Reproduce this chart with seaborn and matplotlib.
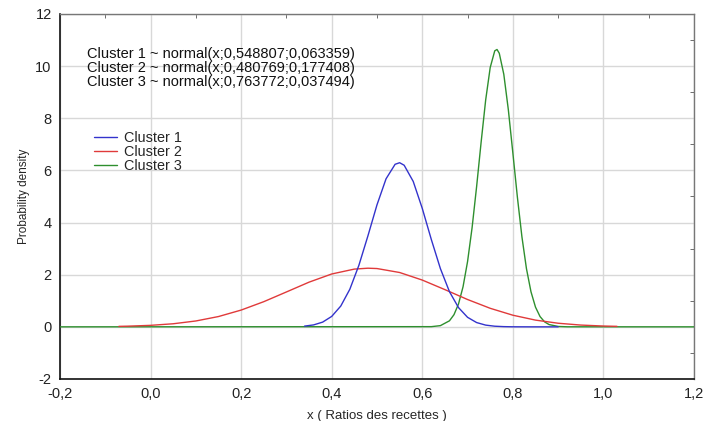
import matplotlib
matplotlib.use("Agg")
import matplotlib.pyplot as plt
import seaborn as sns
from matplotlib.ticker import MultipleLocator, FuncFormatter

# densities (normal curves of the three clusters)
x_c1 = [0.34, 0.36, 0.38, 0.40, 0.42, 0.44, 0.46, 0.48, 0.50, 0.52, 0.54, 0.55, 0.56,
        0.58, 0.60, 0.62, 0.64, 0.66, 0.68, 0.70, 0.72, 0.74, 0.76, 0.78, 0.80, 0.82,
        0.84, 0.86, 0.88, 0.90]
y_c1 = [0.028, 0.074, 0.181, 0.400, 0.797, 1.441, 2.358, 3.491, 4.680, 5.678, 6.235, 6.295, 6.198,
        5.577, 4.542, 3.348, 2.234, 1.349, 0.738, 0.365, 0.164, 0.066, 0.024, 0.008, 0.002, 0.001,
        0.0, 0.0, 0.0, 0.0]

x_c2 = [-0.07, -0.05, 0.00, 0.05, 0.10, 0.15, 0.20, 0.25, 0.30, 0.35, 0.40, 0.45, 0.48,
        0.50, 0.55, 0.60, 0.65, 0.70, 0.75, 0.80, 0.85, 0.90, 0.95, 1.00, 1.03]
y_c2 = [0.018, 0.026, 0.057, 0.118, 0.225, 0.395, 0.643, 0.965, 1.338, 1.714, 2.027, 2.215, 2.249,
        2.236, 2.084, 1.794, 1.427, 1.048, 0.711, 0.446, 0.258, 0.138, 0.068, 0.031, 0.019]

x_c3 = [-0.20, 0.62, 0.64, 0.66, 0.67, 0.68, 0.69, 0.70, 0.71, 0.72, 0.73, 0.74, 0.75, 0.76,
        0.765, 0.77, 0.78, 0.79, 0.80, 0.81, 0.82, 0.83, 0.84, 0.85, 0.86, 0.87, 0.88, 0.90,
        0.92, 1.20]
y_c3 = [0.0, 0.007, 0.046, 0.231, 0.466, 0.877, 1.536, 2.505, 3.805, 5.383, 7.093, 8.703, 9.946, 10.586,
        10.638, 10.494, 9.688, 8.331, 6.671, 4.975, 3.456, 2.235, 1.347, 0.756, 0.395, 0.192, 0.087, 0.015,
        0.002, 0.0]

labels = ["Cluster 1", "Cluster 2", "Cluster 3"]
colors = ["#3333cc", "#e03a3a", "#2e8f2e"]
formulas = ["Cluster 1 ~ normal(x;0,548807;0,063359)",
            "Cluster 2 ~ normal(x;0,480769;0,177408)",
            "Cluster 3 ~ normal(x;0,763772;0,037494)"]

sns.set_style("white")
plt.rcParams["font.family"] = ["Liberation Sans", "DejaVu Sans"]

fig = plt.figure(figsize=(7.04, 4.21), dpi=100)
ax = fig.add_axes([0.0852, 0.0998, 0.9006, 0.867])

series = [(x_c1, y_c1), (x_c2, y_c2), (x_c3, y_c3)]
# green first so the red/blue tails sit on top of the zero line
for i in [2, 1, 0]:
    xs, ys = series[i]
    sns.lineplot(x=xs, y=ys, ax=ax, color=colors[i], linewidth=1.0,
                 sort=False, estimator=None, label=labels[i], zorder=3 + (2 - i))

ax.set_xlim(-0.2, 1.2)
ax.set_ylim(-2, 12)
ax.xaxis.set_major_locator(MultipleLocator(0.2))
ax.xaxis.set_minor_locator(MultipleLocator(0.1))
ax.yaxis.set_major_locator(MultipleLocator(2))
ax.yaxis.set_minor_locator(MultipleLocator(1))
ax.xaxis.set_major_formatter(FuncFormatter(lambda v, p: f"{v:.1f}".replace(".", ",").replace("-0,0", "0,0")))
ax.yaxis.set_major_formatter(FuncFormatter(lambda v, p: f"{v:.0f}"))
ax.tick_params(which="both", direction="in", top=True, right=True, labelsize=10.5, colors="#222222")
ax.tick_params(which="major", length=0, pad=6)
ax.tick_params(which="minor", length=3, color="#555555")
ax.grid(True, which="major", color="#d8d8d8", linewidth=1.0)

for side in ["left", "bottom"]:
    ax.spines[side].set_color("#111111")
    ax.spines[side].set_linewidth(1.2)
for side in ["top", "right"]:
    ax.spines[side].set_color("#777777")
    ax.spines[side].set_linewidth(1.0)

ax.set_xlabel("x ( Ratios des recettes )", fontsize=9.5, labelpad=6)
ax.set_ylabel("Probability density", fontsize=8.5, labelpad=4)

for k, ypos in enumerate([0.890, 0.852, 0.815]):
    ax.text(0.0425, ypos, formulas[k], transform=ax.transAxes,
            fontsize=10.5, va="center", ha="left", color="#111111")

handles, labs = ax.get_legend_handles_labels()
order = [labs.index(l) for l in labels]
ax.legend([handles[j] for j in order], labels, loc="upper left",
          bbox_to_anchor=(0.045, 0.694), frameon=False, fontsize=10.4,
          handlelength=1.6, handletextpad=0.45, labelspacing=0.0, borderaxespad=0)

fig.savefig("out.png", dpi=100)
